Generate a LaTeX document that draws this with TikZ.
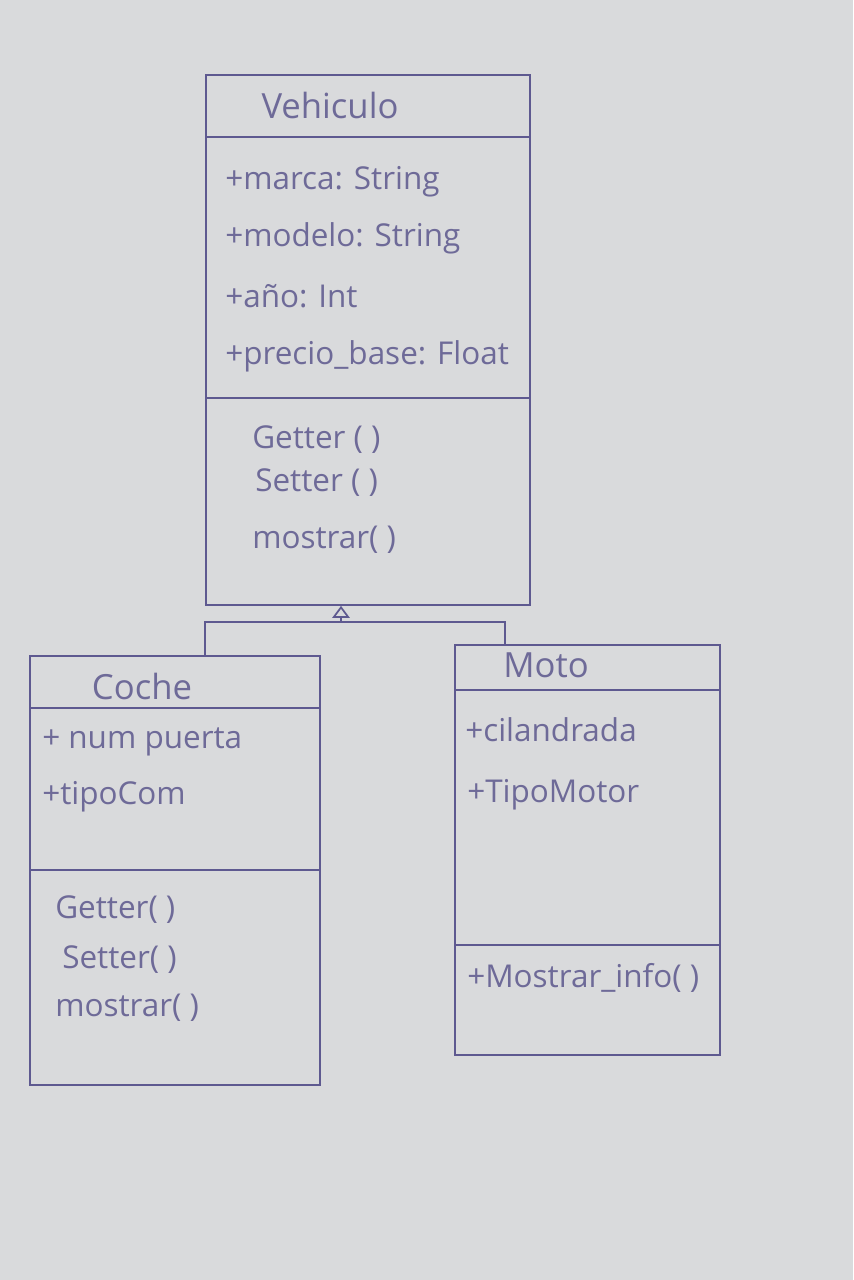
\documentclass[tikz,border=0pt]{standalone}
\usepackage{fontspec}
\setmainfont{Open Sans}
\usetikzlibrary{fit,arrows.meta}
\definecolor{paper}{HTML}{D9DADC}
\definecolor{pen}{HTML}{5E5990}
\definecolor{ink}{HTML}{6E6A98}
\tikzset{
  classbox/.style={draw=pen, line width=1.3pt, inner sep=0pt, fill=none},
  sepline/.style={draw=pen, line width=1.2pt},
  conn/.style={draw=pen, line width=1.3pt},
  title/.style={text=ink, inner sep=0pt, font=\fontsize{26}{29}\selectfont},
  member/.style={text=ink, inner sep=0pt, anchor=west, font=\fontsize{23.6}{26}\selectfont},
}
\begin{document}
\begin{tikzpicture}[x=0.75pt,y=-0.75pt]
\fill[paper] (0,0) rectangle (853,1280);
\useasboundingbox (0,0) rectangle (853,1280);

% Vehiculo
\node[classbox, fit={(206,75) (530,605)}] (veh) {};
\node[title] (vehname) at (330,106) {Vehiculo};
\draw[sepline] (veh.west |- 0,137) -- (veh.east |- 0,137);
\node[member] (v1) at (225,182) {+marca: String};
\node[member] (v2) at (225,238) {+modelo: String};
\node[member] (v3) at (225,296) {+año: Int};
\node[member] (v4) at (225,356) {+precio\_base: Float};
\draw[sepline] (veh.west |- 0,398) -- (veh.east |- 0,398);
\node[member] (v5) at (252,440) {Getter ( )};
\node[member] (v6) at (255,483) {Setter ( )};
\node[member] (v7) at (252,540) {mostrar( )};

% Coche
\node[classbox, fit={(30,656) (320,1085)}] (coche) {};
\node[title] (cochename) at (142,686) {Coche};
\draw[sepline] (coche.west |- 0,708) -- (coche.east |- 0,708);
\node[member] (c1) at (42,742) {+ num puerta};
\node[member] (c2) at (42,797) {+tipoCom};
\draw[sepline] (coche.west |- 0,870) -- (coche.east |- 0,870);
\node[member] (c3) at (55,910) {Getter( )};
\node[member] (c4) at (62,960) {Setter( )};
\node[member] (c5) at (55,1008) {mostrar( )};

% Moto
\node[classbox, fit={(455,645) (720,1055)}] (moto) {};
\node[title] (motoname) at (546,665) {Moto};
\draw[sepline] (moto.west |- 0,690) -- (moto.east |- 0,690);
\node[member] (m1) at (465,730) {+cilandrada};
\node[member] (m2) at (467,795) {+TipoMotor};
\draw[sepline] (moto.west |- 0,945) -- (moto.east |- 0,945);
\node[member] (m3) at (467,978) {+Mostrar\_info( )};

% inheritance
\coordinate (j) at (341,622);
\coordinate (jl) at (205,622);
\coordinate (jr) at (505,622);
\draw[conn, -{Triangle[open, length=9pt, width=13pt]}] (j) -- (veh.south -| j);
\draw[conn] (coche.north -| jl) -- (jl) -- (jr) -- (moto.north -| jr);
\end{tikzpicture}
\end{document}
